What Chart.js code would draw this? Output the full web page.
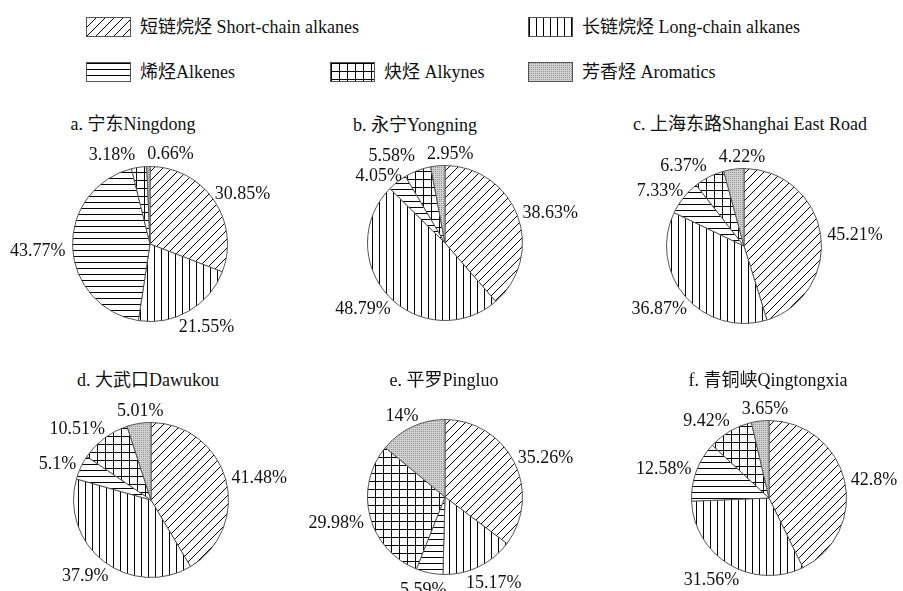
<!DOCTYPE html>
<html>
<head>
<meta charset="utf-8">
<script src="https://cdn.jsdelivr.net/npm/chart.js@4"></script>
<style>
  body {
    margin: 0; width: 903px; height: 591px; background: #fff;
    position: relative; overflow: hidden; color: #111;
    font-family: "Liberation Serif", "Noto Sans CJK SC", serif;
  }
  .pie { position: absolute; }
  .title { position: absolute; font-size: 18px; white-space: nowrap; transform: translate(-50%, -50%); }
  .legend-item { position: absolute; display: flex; align-items: center; font-size: 18px; line-height: 20px; white-space: nowrap; }
  .legend-item canvas { border: 1px solid #555; margin-right: 9px; }
</style>
</head>
<body>
<script>
const categories = ['短链烷烃 Short-chain alkanes', '长链烷烃 Long-chain alkanes', '烯烃Alkenes', '炔烃 Alkynes', '芳香烃 Aromatics']
const sites = ['a. 宁东Ningdong', 'b. 永宁Yongning', 'c. 上海东路Shanghai East Road', 'd. 大武口Dawukou', 'e. 平罗Pingluo', 'f. 青铜峡Qingtongxia']
const ningdong = [30.85, 21.55, 43.77, 3.18, 0.66]
const yongning = [38.63, 48.79, 4.05, 5.58, 2.95]
const shanghaiEastRoad = [45.21, 36.87, 7.33, 6.37, 4.22]
const dawukou = [41.48, 37.9, 5.1, 10.51, 5.01]
const pingluo = [35.26, 15.17, 5.59, 29.98, 14]
const qingtongxia = [42.8, 31.56, 12.58, 9.42, 3.65]

const siteValues = [ningdong, yongning, shanghaiEastRoad, dawukou, pingluo, qingtongxia]

// where each pie sits on the page (pie centre + title centre)
const placement = [
  { cx: 150, cy: 244, tx: 133, ty: 122 },
  { cx: 445, cy: 243, tx: 415, ty: 123 },
  { cx: 744, cy: 246, tx: 750, ty: 122 },
  { cx: 151, cy: 500, tx: 148, ty: 378 },
  { cx: 445, cy: 497, tx: 444, ty: 378 },
  { cx: 769, cy: 498, tx: 768, ty: 378 },
]

const legendSpots = [
  { left: 86, top: 17 }, { left: 528, top: 17 },
  { left: 86, top: 62 }, { left: 330, top: 62 }, { left: 528, top: 62 },
]

const ink = '#444'

function tile(kind) {
  const c = document.createElement('canvas')
  const g = c.getContext('2d')
  g.strokeStyle = ink
  g.lineWidth = 1
  if (kind === 'diag') {
    c.width = c.height = 9
    g.fillStyle = '#fff'; g.fillRect(0, 0, 9, 9)
    g.beginPath()
    g.moveTo(0, 9); g.lineTo(9, 0)
    g.moveTo(-1, 1); g.lineTo(1, -1)
    g.moveTo(8, 10); g.lineTo(10, 8)
    g.stroke()
  } else if (kind === 'vert') {
    c.width = 7; c.height = 7
    g.fillStyle = '#fff'; g.fillRect(0, 0, 7, 7)
    g.beginPath(); g.moveTo(0.5, 0); g.lineTo(0.5, 7); g.stroke()
  } else if (kind === 'horiz') {
    c.width = 6; c.height = 6
    g.fillStyle = '#fff'; g.fillRect(0, 0, 6, 6)
    g.beginPath(); g.moveTo(0, 0.5); g.lineTo(6, 0.5); g.stroke()
  } else if (kind === 'grid') {
    c.width = c.height = 8
    g.fillStyle = '#fff'; g.fillRect(0, 0, 8, 8)
    g.beginPath()
    g.moveTo(0.5, 0); g.lineTo(0.5, 8)
    g.moveTo(0, 0.5); g.lineTo(8, 0.5)
    g.stroke()
  } else {
    c.width = c.height = 2
    g.fillStyle = '#d0d0d0'; g.fillRect(0, 0, 2, 2)
    g.fillStyle = '#999'; g.fillRect(0, 0, 1, 1)
  }
  return c
}

const kinds = ['diag', 'vert', 'horiz', 'grid', 'dots']
const helper = document.createElement('canvas').getContext('2d')
const patterns = kinds.map(k => helper.createPattern(tile(k), 'repeat'))

// percentage labels outside each slice, nudged apart when they collide
const pctLabels = {
  id: 'pctLabels',
  afterDraw(chart) {
    const ctx = chart.ctx
    const values = chart.data.datasets[0].data
    const arcs = chart.getDatasetMeta(0).data
    ctx.save()
    ctx.font = '18px "Liberation Serif"'
    ctx.fillStyle = '#111'
    ctx.textAlign = 'center'
    ctx.textBaseline = 'middle'

    const boxes = arcs.map((arc, i) => {
      const p = arc.getProps(['x', 'y', 'startAngle', 'endAngle', 'outerRadius'], true)
      const mid = (p.startAngle + p.endAngle) / 2
      const text = values[i] + '%'
      const w = ctx.measureText(text).width
      const ax = p.x + Math.cos(mid) * (p.outerRadius + 7)
      const ay = p.y + Math.sin(mid) * (p.outerRadius + 7)
      return { text, w, side: Math.abs(Math.cos(mid)), x: ax + Math.cos(mid) * w / 2, y: ay + Math.sin(mid) * 8 + 3 }
    })

    for (let pass = 0; pass < 6; pass++) {
      for (let i = 0; i < boxes.length; i++) {
        for (let j = i + 1; j < boxes.length; j++) {
          const a = boxes[i], b = boxes[j]
          const ox = (a.w + b.w) / 2 + 12 - Math.abs(a.x - b.x)
          const oy = 20 - Math.abs(a.y - b.y)
          if (ox <= 0 || oy <= 0) continue
          if (a.side > 0.3 && b.side > 0.3) {
            // both on the flanks: stack them
            const dir = a.y >= b.y ? 1 : -1
            a.y += dir * oy / 2
            b.y -= dir * oy / 2
          } else {
            const dir = a.x >= b.x ? 1 : -1
            a.x += dir * ox / 2
            b.x -= dir * ox / 2
          }
        }
      }
    }

    boxes.forEach(b => ctx.fillText(b.text, b.x, b.y))
    ctx.restore()
  },
}

const W = 300, H = 240, D = 156

siteValues.forEach((values, i) => {
  const spot = placement[i]

  const title = document.createElement('div')
  title.className = 'title'
  title.style.left = spot.tx + 'px'
  title.style.top = spot.ty + 'px'
  title.textContent = sites[i]
  document.body.appendChild(title)

  const canvas = document.createElement('canvas')
  canvas.className = 'pie'
  canvas.width = W
  canvas.height = H
  canvas.style.left = (spot.cx - W / 2) + 'px'
  canvas.style.top = (spot.cy - H / 2) + 'px'
  document.body.appendChild(canvas)

  new Chart(canvas, {
    type: 'pie',
    data: {
      labels: categories,
      datasets: [
        {
          data: values,
          backgroundColor: patterns,
          borderColor: '#555',
          borderWidth: 1,
        },
      ],
    },
    options: {
      responsive: false,
      animation: false,
      layout: {
        padding: { left: (W - D) / 2, right: (W - D) / 2, top: (H - D) / 2, bottom: (H - D) / 2 },
      },
      plugins: {
        legend: { display: false },
        tooltip: { enabled: false },
      },
    },
    plugins: [pctLabels],
  })
})

// shared legend across the top
categories.forEach((name, i) => {
  const item = document.createElement('div')
  item.className = 'legend-item'
  item.style.left = legendSpots[i].left + 'px'
  item.style.top = legendSpots[i].top + 'px'

  const sw = document.createElement('canvas')
  sw.width = 43
  sw.height = 18
  const g = sw.getContext('2d')
  g.fillStyle = patterns[i]
  g.fillRect(0, 0, 43, 18)
  item.appendChild(sw)

  const label = document.createElement('span')
  label.textContent = name
  item.appendChild(label)
  document.body.appendChild(item)
})
</script>
</body>
</html>
